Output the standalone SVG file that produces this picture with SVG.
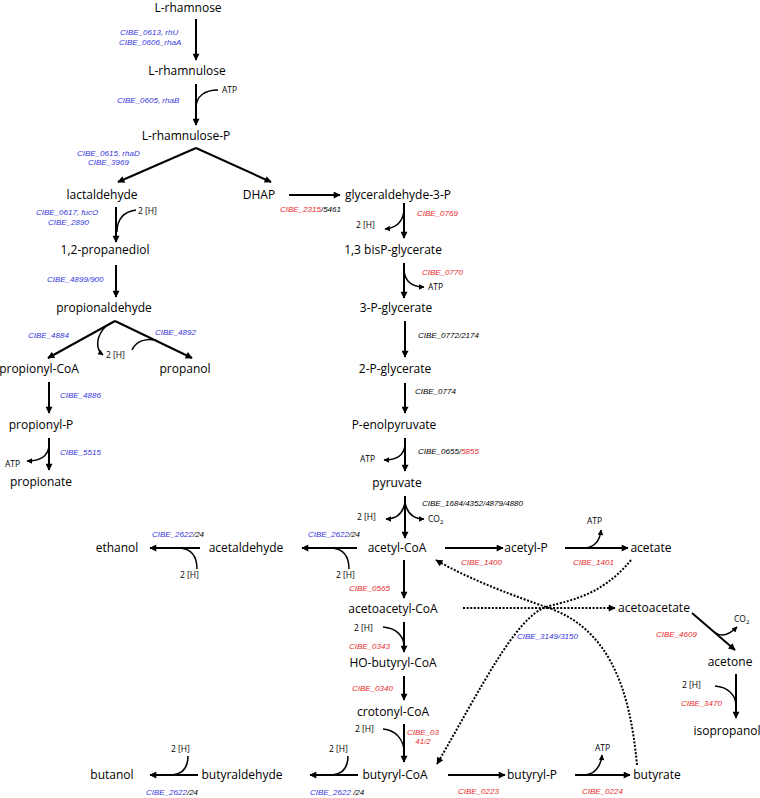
<svg xmlns="http://www.w3.org/2000/svg" width="760" height="798" viewBox="0 0 760 798">
<style>
.n{font-family:"Open Sans","Liberation Sans",sans-serif;font-size:12px;fill:#000;text-anchor:middle}
.g{font-family:"Liberation Sans",Arial,sans-serif;font-size:8px;font-style:italic;fill:#000}
.b{fill:#3535dc}
.r{fill:#e82a2a}
.s{font-family:"Open Sans","Liberation Sans",sans-serif;font-size:8.5px;fill:#000}
.a{fill:none;stroke:#000;stroke-width:2;marker-end:url(#ah)}
.c{fill:none;stroke:#000;stroke-width:1.5}
.ca{fill:none;stroke:#000;stroke-width:1.5;marker-end:url(#sh)}
.d{fill:none;stroke:#000;stroke-width:2;stroke-dasharray:2 1.6;marker-end:url(#ah)}
</style>
<defs>
<marker id="ah" viewBox="0 0 10 10" refX="9" refY="5" markerWidth="9" markerHeight="7" markerUnits="userSpaceOnUse" orient="auto"><path d="M0,0L10,5L0,10z" fill="#000"/></marker>
<marker id="sh" viewBox="0 0 10 10" refX="9" refY="5" markerWidth="7" markerHeight="5.5" markerUnits="userSpaceOnUse" orient="auto"><path d="M0,0L10,5L0,10z" fill="#000"/></marker>
</defs>
<rect width="760" height="798" fill="#fff"/>

<g id="connectors">
<path class="a" d="M196,19L196,60"/>
<path class="a" d="M196,84L196,125"/>
<path class="c" d="M196,108C196,96 205,90 218,90"/>
<path class="a" d="M196,148L118,182"/>
<path class="a" d="M196,148L271,182"/>
<path class="a" d="M116,207L116,242"/>
<path class="c" d="M136,210C122,212 117,220 117,232"/>
<path class="a" d="M116,265L116,297"/>
<path class="a" d="M115,321L48,358"/>
<path class="a" d="M115,321L192,358"/>
<path class="ca" d="M106,326C96,336 95,349 103,355"/>
<path class="c" d="M132,350C136,341 146,338 156,340"/>
<path class="a" d="M49,382L49,413"/>
<path class="a" d="M49,438L49,470"/>
<path class="ca" d="M49,446C48,456 40,461 27,461"/>
<path class="a" d="M289,195L340,195"/>
<path class="a" d="M404,203L404,238"/>
<path class="ca" d="M404,210C403,222 396,228 385,229"/>
<path class="a" d="M404,263L404,298"/>
<path class="ca" d="M404,270C405,282 412,287 424,287"/>
<path class="a" d="M405,321L405,357"/>
<path class="a" d="M405,383L405,413"/>
<path class="a" d="M405,438L405,471"/>
<path class="ca" d="M405,445C404,456 396,460 384,460"/>
<path class="a" d="M405,496L405,538"/>
<path class="ca" d="M405,502C403,514 396,519 386,519"/>
<path class="ca" d="M405,502C407,514 414,519 424,519"/>
<path class="a" d="M357,548L302,548"/>
<path class="c" d="M349,569C349,556 343,549 332,548"/>
<path class="a" d="M200,548L150,548"/>
<path class="c" d="M197,569C197,556 191,549 180,548"/>
<path class="a" d="M445,548L503,548"/>
<path class="a" d="M565,548L628,548"/>
<path class="ca" d="M585,548C595,547 600,540 601,530"/>
<path class="a" d="M404,560L404,598"/>
<path class="a" d="M404,622L404,652"/>
<path class="c" d="M383,627C396,628 404,636 404,646"/>
<path class="a" d="M404,676L404,700"/>
<path class="a" d="M404,724L404,762"/>
<path class="c" d="M383,729C396,730 404,740 404,752"/>
<path class="a" d="M358,775L310,775"/>
<path class="c" d="M348,756C348,768 342,774 332,775"/>
<path class="a" d="M198,775L150,775"/>
<path class="c" d="M188,756C188,768 182,774 172,775"/>
<path class="a" d="M448,775L505,775"/>
<path class="a" d="M575,775L630,775"/>
<path class="ca" d="M585,775C595,774 601,766 602,755"/>
<path class="a" d="M692,613L735,650"/>
<path class="ca" d="M714,632C722,638 730,634 737,627"/>
<path class="a" d="M736,674L736,718"/>
<path class="c" d="M715,686C728,687 736,695 736,706"/>
<path class="d" d="M463,608L615,608"/>
<path class="d" d="M631,560C600,598 565,601 546,607C515,618 480,690 437,764"/>
<path class="d" d="M637,765C630,690 610,628 546,607C520,598 470,580 436,560"/>
</g>

<g id="L-rhamnose"><text class="n" x="188" y="12">L-rhamnose</text></g>
<g id="L-rhamnulose"><text class="n" x="187" y="75">L-rhamnulose</text></g>
<g id="L-rhamnulose-P"><text class="n" x="186" y="140">L-rhamnulose-P</text></g>
<g id="lactaldehyde"><text class="n" x="102" y="199">lactaldehyde</text></g>
<g id="DHAP"><text class="n" x="259" y="199">DHAP</text></g>
<g id="glyceraldehyde-3-P"><text class="n" x="398" y="199">glyceraldehyde-3-P</text></g>
<g id="bisP-glycerate"><text class="n" x="393" y="254">1,3 bisP-glycerate</text></g>
<g id="3-P-glycerate"><text class="n" x="396" y="312">3-P-glycerate</text></g>
<g id="2-P-glycerate"><text class="n" x="395" y="373">2-P-glycerate</text></g>
<g id="P-enolpyruvate"><text class="n" x="394" y="429">P-enolpyruvate</text></g>
<g id="pyruvate"><text class="n" x="397" y="487">pyruvate</text></g>
<g id="acetyl-CoA"><text class="n" x="397" y="552">acetyl-CoA</text></g>
<g id="acetyl-P"><text class="n" x="526" y="552">acetyl-P</text></g>
<g id="acetate"><text class="n" x="651" y="552">acetate</text></g>
<g id="acetaldehyde"><text class="n" x="246" y="552">acetaldehyde</text></g>
<g id="ethanol"><text class="n" x="117" y="552">ethanol</text></g>
<g id="acetoacetyl-CoA"><text class="n" x="393" y="613">acetoacetyl-CoA</text></g>
<g id="acetoacetate"><text class="n" x="654" y="612">acetoacetate</text></g>
<g id="acetone"><text class="n" x="730" y="666">acetone</text></g>
<g id="isopropanol"><text class="n" x="727" y="735">isopropanol</text></g>
<g id="HO-butyryl-CoA"><text class="n" x="393" y="667">HO-butyryl-CoA</text></g>
<g id="crotonyl-CoA"><text class="n" x="393" y="716">crotonyl-CoA</text></g>
<g id="butyryl-CoA"><text class="n" x="395" y="779">butyryl-CoA</text></g>
<g id="butyryl-P"><text class="n" x="532" y="779">butyryl-P</text></g>
<g id="butyrate"><text class="n" x="657" y="779">butyrate</text></g>
<g id="butyraldehyde"><text class="n" x="242" y="779">butyraldehyde</text></g>
<g id="butanol"><text class="n" x="112" y="779">butanol</text></g>
<g id="propanediol"><text class="n" x="105" y="254">1,2-propanediol</text></g>
<g id="propionaldehyde"><text class="n" x="104" y="312">propionaldehyde</text></g>
<g id="propionyl-CoA"><text class="n" x="39" y="373">propionyl-CoA</text></g>
<g id="propanol"><text class="n" x="185" y="373">propanol</text></g>
<g id="propionyl-P"><text class="n" x="41" y="429">propionyl-P</text></g>
<g id="propionate"><text class="n" x="41" y="486">propionate</text></g>

<g id="enzymes">
<text class="g b" x="120" y="35">CIBE_0613, rhU</text>
<text class="g b" x="119" y="45">CIBE_0606_rhaA</text>
<text class="g b" x="117" y="103">CIBE_0605, rhaB</text>
<text class="g b" x="77" y="156">CIBE_0615, rhaD</text>
<text class="g b" x="88" y="165">CIBE_3969</text>
<text class="g b" x="36" y="215">CIBE_0617, fucO</text>
<text class="g b" x="48" y="225">CIBE_2890</text>
<text class="g b" x="47" y="282">CIBE_4899/900</text>
<text class="g b" x="28" y="338">CIBE_4884</text>
<text class="g b" x="155" y="335">CIBE_4892</text>
<text class="g b" x="60" y="398">CIBE_4886</text>
<text class="g b" x="60" y="455">CIBE_5515</text>
<text class="g" x="280" y="212"><tspan class="r">CIBE_2315</tspan>/5461</text>
<text class="g r" x="417" y="216">CIBE_0769</text>
<text class="g r" x="422" y="275">CIBE_0770</text>
<text class="g" x="418" y="338">CIBE_0772/2174</text>
<text class="g" x="415" y="394">CIBE_0774</text>
<text class="g" x="418" y="454">CIBE_0655/<tspan class="r">5855</tspan></text>
<text class="g" x="422" y="506">CIBE_1684/4352/4879/4880</text>
<text class="g" x="152" y="537"><tspan class="b">CIBE_2622</tspan>/24</text>
<text class="g" x="308" y="537"><tspan class="b">CIBE_2622</tspan>/24</text>
<text class="g r" x="349" y="591">CIBE_0565</text>
<text class="g r" x="461" y="565">CIBE_1400</text>
<text class="g r" x="573" y="565">CIBE_1401</text>
<text class="g b" x="517" y="639">CIBE_3149/3150</text>
<text class="g r" x="656" y="637">CIBE_4609</text>
<text class="g r" x="349" y="649">CIBE_0343</text>
<text class="g r" x="352" y="691">CIBE_0340</text>
<text class="g r" x="423" y="735" text-anchor="middle">CIBE_03</text>
<text class="g r" x="423" y="744" text-anchor="middle">41/2</text>
<text class="g r" x="681" y="706">CIBE_3470</text>
<text class="g" x="146" y="795"><tspan class="b">CIBE_2622</tspan>/24</text>
<text class="g" x="310" y="795"><tspan class="b">CIBE_2622</tspan> /24</text>
<text class="g r" x="458" y="794">CIBE_0223</text>
<text class="g r" x="582" y="794">CIBE_0224</text>
</g>

<g id="cofactors">
<text class="s" x="222" y="93">ATP</text>
<text class="s" x="138" y="214">2 [H]</text>
<text class="s" x="106" y="358">2 [H]</text>
<text class="s" x="5" y="467">ATP</text>
<text class="s" x="356" y="228">2 [H]</text>
<text class="s" x="428" y="290">ATP</text>
<text class="s" x="360" y="462">ATP</text>
<text class="s" x="357" y="520">2 [H]</text>
<text class="s" x="428" y="522">CO<tspan font-size="6" dy="2">2</tspan></text>
<text class="s" x="180" y="578">2 [H]</text>
<text class="s" x="336" y="578">2 [H]</text>
<text class="s" x="587" y="524">ATP</text>
<text class="s" x="734" y="622">CO<tspan font-size="6" dy="2">2</tspan></text>
<text class="s" x="354" y="631">2 [H]</text>
<text class="s" x="355" y="732">2 [H]</text>
<text class="s" x="171" y="752">2 [H]</text>
<text class="s" x="329" y="752">2 [H]</text>
<text class="s" x="682" y="688">2 [H]</text>
<text class="s" x="595" y="751">ATP</text>
</g>
</svg>
